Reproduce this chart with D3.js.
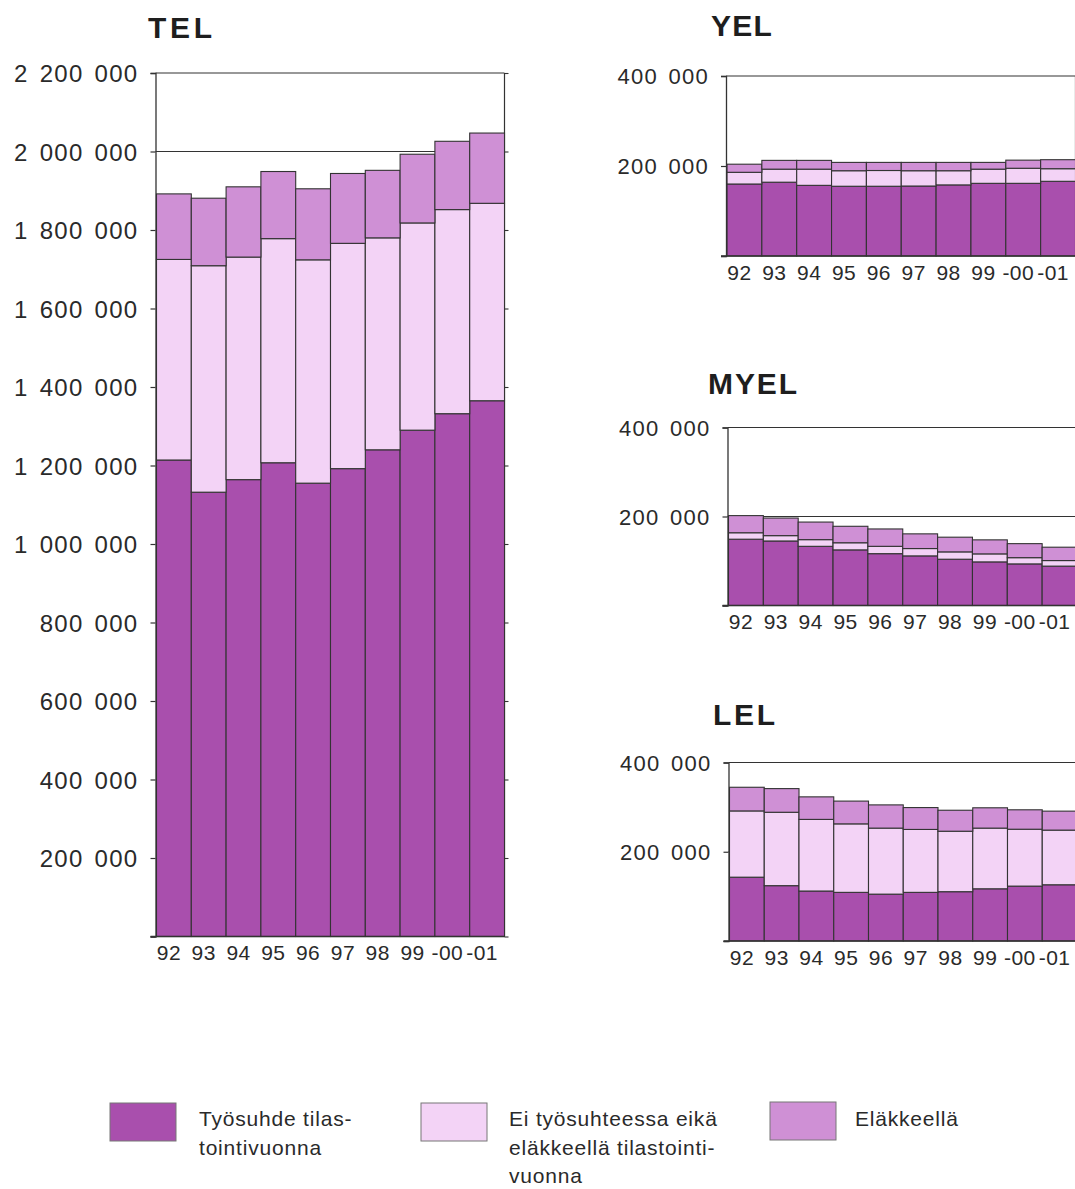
<!DOCTYPE html>
<html>
<head>
<meta charset="utf-8">
<script src="https://cdn.jsdelivr.net/npm/d3@7/dist/d3.min.js"></script>
<style>
  html, body { margin: 0; padding: 0; background: #fff; }
  svg { display: block; }
  text { font-family: "Liberation Sans", Arial, Helvetica, sans-serif; fill: #2a2a2a; }
</style>
</head>
<body>
<svg id="chart" width="1075" height="1189"></svg>
<script>
// ---------- DATA ----------
const years = ["92", "93", "94", "95", "96", "97", "98", "99", "-00", "-01"];
const seriesKeys = ["work", "notWork", "retired"];
const seriesLabels = [
  ["Työsuhde tilas-", "tointivuonna"],
  ["Ei työsuhteessa eikä", "eläkkeellä tilastointi-", "vuonna"],
  ["Eläkkeellä"]
];

const telWork    = [1214000, 1132000, 1164000, 1207000, 1155000, 1192000, 1240000, 1290000, 1332000, 1365000];
const telNotWork = [511000, 577000, 567000, 571000, 569000, 574000, 540000, 528000, 520000, 503000];
const telRetired = [167000, 172000, 179000, 171000, 181000, 178000, 172000, 175000, 174000, 179000];

const yelWork    = [160000, 164000, 157000, 155000, 155000, 155500, 158000, 161500, 161500, 166000];
const yelNotWork = [26000, 29000, 36000, 34500, 35000, 34000, 31500, 31500, 33500, 28000];
const yelRetired = [18000, 19500, 19500, 18500, 18000, 18500, 18500, 15000, 18000, 20000];

const myelWork    = [149000, 145000, 133000, 125000, 116500, 111500, 104000, 98000, 93500, 88500];
const myelNotWork = [14500, 12000, 15000, 16000, 16500, 16500, 16500, 18000, 14000, 12500];
const myelRetired = [38500, 39500, 39500, 37000, 39000, 33000, 33000, 31500, 31500, 30000];

const lelWork    = [143000, 124000, 112000, 109000, 105000, 109000, 110500, 117000, 123000, 126000];
const lelNotWork = [148500, 164500, 160500, 153500, 148000, 141000, 135500, 136000, 127500, 122500];
const lelRetired = [53000, 53000, 50500, 51000, 52000, 49000, 47000, 45500, 43500, 42500];

const telTicks   = [0, 200000, 400000, 600000, 800000, 1000000, 1200000, 1400000, 1600000, 1800000, 2000000, 2200000];
const smallTicks = [0, 200000, 400000];

// ---------- STYLE / LAYOUT ----------
const colors = { work: "#a94fad", notWork: "#f3d3f6", retired: "#cf90d5" };
const strokeCol = "#333";

const svg = d3.select("#chart");
const locale = d3.formatLocale({ decimal: ",", thousands: " ", grouping: [3], currency: ["", ""] });
const fmt = locale.format(",");

function rows(work, notWork, retired) {
  return years.map((y, i) => ({ year: y, work: work[i], notWork: notWork[i], retired: retired[i] }));
}

const charts = [
  { title: "TEL", data: rows(telWork, telNotWork, telRetired), ticks: telTicks, max: 2200000, grid: 2000000,
    left: 155.5, right: 504.5, top: 73, bottom: 936.5, titleX: 148, titleY: 38, titleLS: 3.7,
    tickFont: 24, rightTicks: true },
  { title: "YEL", data: rows(yelWork, yelNotWork, yelRetired), ticks: smallTicks, max: 400000, grid: 200000,
    left: 726, right: 1075.5, top: 76, bottom: 256, titleX: 711, titleY: 36, titleLS: 1.3,
    tickFont: 22, rightTicks: false },
  { title: "MYEL", data: rows(myelWork, myelNotWork, myelRetired), ticks: smallTicks, max: 400000, grid: 200000,
    left: 727.5, right: 1077, top: 427.5, bottom: 605.5, titleX: 708, titleY: 394, titleLS: 1.9,
    tickFont: 22, rightTicks: false },
  { title: "LEL", data: rows(lelWork, lelNotWork, lelRetired), ticks: smallTicks, max: 400000, grid: 200000,
    left: 728.5, right: 1077, top: 762.5, bottom: 941, titleX: 713, titleY: 725, titleLS: 2.7,
    tickFont: 22, rightTicks: false }
];

const stack = d3.stack().keys(seriesKeys);

charts.forEach(c => {
  const g = svg.append("g");
  const x = d3.scaleBand().domain(years).range([c.left + 1, c.right]).padding(0);
  const y = d3.scaleLinear().domain([0, c.max]).range([c.bottom, c.top]);

  // title
  g.append("text")
    .attr("x", c.titleX).attr("y", c.titleY)
    .attr("font-size", 30).attr("font-weight", "bold")
    .attr("letter-spacing", c.titleLS)
    .style("fill", "#1e1e1e")
    .text(c.title);

  // gridline
  g.append("line")
    .attr("x1", c.left).attr("x2", c.right)
    .attr("y1", y(c.grid)).attr("y2", y(c.grid))
    .attr("stroke", strokeCol).attr("stroke-width", 1.2);

  // top border and right border
  g.append("line")
    .attr("x1", c.left).attr("x2", c.right)
    .attr("y1", y(c.max)).attr("y2", y(c.max))
    .attr("stroke", strokeCol).attr("stroke-width", 1.2);
  g.append("line")
    .attr("x1", c.right).attr("x2", c.right)
    .attr("y1", y(c.max)).attr("y2", y(0))
    .attr("stroke", strokeCol).attr("stroke-width", 1.2);

  // bars
  const layers = stack(c.data);
  g.selectAll("g.layer").data(layers).join("g")
    .attr("class", "layer")
    .attr("fill", d => colors[d.key])
    .selectAll("rect").data(d => d).join("rect")
    .attr("x", d => x(d.data.year))
    .attr("width", x.bandwidth())
    .attr("y", d => y(d[1]))
    .attr("height", d => y(d[0]) - y(d[1]))
    .attr("stroke", strokeCol).attr("stroke-width", 1.1);

  // left axis
  const yAxis = d3.axisLeft(y).tickValues(c.ticks).tickSize(5).tickPadding(12)
    .tickFormat(d => d === 0 ? "" : fmt(d));
  const ax = g.append("g").attr("transform", `translate(${c.left},0)`).call(yAxis);
  ax.select(".domain").attr("stroke", strokeCol).attr("stroke-width", 1.3);
  ax.selectAll(".tick line").attr("stroke", strokeCol).attr("stroke-width", 1.2);
  ax.selectAll(".tick text")
    .attr("font-size", c.tickFont)
    .attr("font-family", "'Liberation Sans', Arial, sans-serif")
    .attr("letter-spacing", 1.3)
    .attr("word-spacing", 3)
    .attr("dy", "0.36em")
    .style("fill", "#2a2a2a");

  // right ticks
  if (c.rightTicks) {
    const yr = d3.axisRight(y).tickValues(c.ticks).tickSize(4).tickFormat("");
    const axr = g.append("g").attr("transform", `translate(${c.right},0)`).call(yr);
    axr.select(".domain").remove();
    axr.selectAll(".tick line").attr("stroke", strokeCol).attr("stroke-width", 1.1);
  }

  // bottom axis
  const xAxis = d3.axisBottom(x).tickSize(0).tickPadding(9);
  const bx = g.append("g").attr("transform", `translate(0,${c.bottom})`).call(xAxis);
  bx.select(".domain").remove();
  bx.selectAll(".tick text")
    .attr("font-size", 21)
    .attr("font-family", "'Liberation Sans', Arial, sans-serif")
    .attr("letter-spacing", 0.4)
    .attr("dx", -5)
    .style("fill", "#2a2a2a");
  g.append("line")
    .attr("x1", c.left - 5).attr("x2", c.right)
    .attr("y1", c.bottom).attr("y2", c.bottom)
    .attr("stroke", strokeCol).attr("stroke-width", 1.4);
});

// ---------- LEGEND ----------
const legendPos = [
  { sx: 110, sy: 1103, tx: 199 },
  { sx: 421, sy: 1103, tx: 509 },
  { sx: 770, sy: 1102, tx: 855 }
];
const legend = svg.append("g");
seriesKeys.forEach((k, i) => {
  const p = legendPos[i];
  legend.append("rect")
    .attr("x", p.sx).attr("y", p.sy).attr("width", 66).attr("height", 38)
    .attr("fill", colors[k]).attr("stroke", "#777").attr("stroke-width", 1);
  const t = legend.append("text")
    .attr("x", p.tx).attr("y", 1126)
    .attr("font-size", 21).attr("letter-spacing", 0.8)
    .style("fill", "#2a2a2a");
  seriesLabels[i].forEach((line, j) => {
    t.append("tspan").attr("x", p.tx).attr("dy", j === 0 ? 0 : 28.5).text(line);
  });
});
</script>
</body>
</html>
